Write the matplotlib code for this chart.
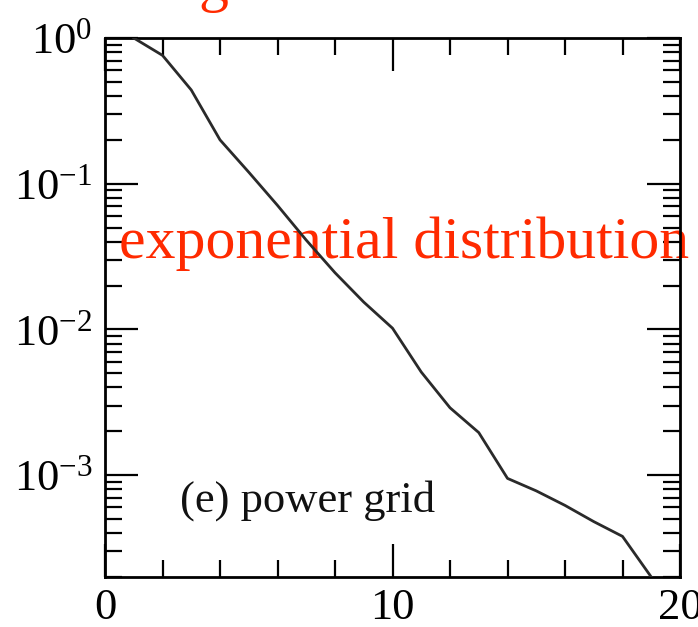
import matplotlib
matplotlib.use("Agg")
import matplotlib.pyplot as plt
from matplotlib.ticker import MultipleLocator, LogLocator, LogFormatterSciNotation, NullFormatter

plt.rcParams['font.family'] = ['Liberation Serif', 'DejaVu Serif']
plt.rcParams['mathtext.fontset'] = 'custom'
plt.rcParams['mathtext.rm'] = 'Liberation Serif'
plt.rcParams['mathtext.it'] = 'Liberation Serif:italic'
plt.rcParams['mathtext.bf'] = 'Liberation Serif:bold'

# data
k = [1, 2, 3, 4, 5, 6, 7, 8, 9, 10, 11, 12, 13, 14, 15, 16, 17, 18, 19]
p = [1.0, 0.76, 0.44, 0.20, 0.12, 0.071, 0.041, 0.0245, 0.0154, 0.0102,
     0.0051, 0.0029, 0.00196, 0.00095, 0.00078, 0.00062, 0.00048, 0.00038, 0.0002]
x_major = [0, 10, 20]
panel_label = "(e) power grid"
note_text = "exponential distribution"

fig = plt.figure(figsize=(6.98, 6.27), dpi=100)
ax = fig.add_axes([105/698, 1-577/627, (680-105)/698, (577-38)/627])

ax.plot(k, p, color='#2a2a2a', lw=2.0, zorder=3, clip_on=True)
ax.set_yscale('log')
ax.set_xlim(0, 20)
ax.set_ylim(2e-4, 1)

ax.set_xticks(x_major)
ax.xaxis.set_minor_locator(MultipleLocator(2))
ax.yaxis.set_major_locator(LogLocator(base=10, numticks=10))
ax.yaxis.set_minor_locator(LogLocator(base=10, subs=range(2, 10), numticks=20))
ax.yaxis.set_minor_formatter(NullFormatter())
ax.yaxis.set_major_formatter(LogFormatterSciNotation())

ax.tick_params(which='both', direction='in', top=True, right=True, width=1.6, colors='black')
ax.tick_params(which='major', length=24, labelsize=32)
ax.tick_params(which='minor', length=12)
ax.tick_params(axis='x', which='major', pad=8)
ax.tick_params(axis='y', which='major', pad=9)
for s in ax.spines.values():
    s.set_linewidth(2.0)

ax.text(0.130, 0.1206, panel_label, transform=ax.transAxes, fontsize=32,
        ha='left', va='baseline', color='#111111')
ax.text(0.0245, 0.592, note_text, transform=ax.transAxes, fontsize=43,
        ha='left', va='baseline', color='#ff2a00', zorder=2, clip_on=False)

fig.text(198/698, 1.0, 'g', fontsize=43, color='#ff2a00', ha='left', va='baseline')

fig.savefig('out.png', dpi=100)
